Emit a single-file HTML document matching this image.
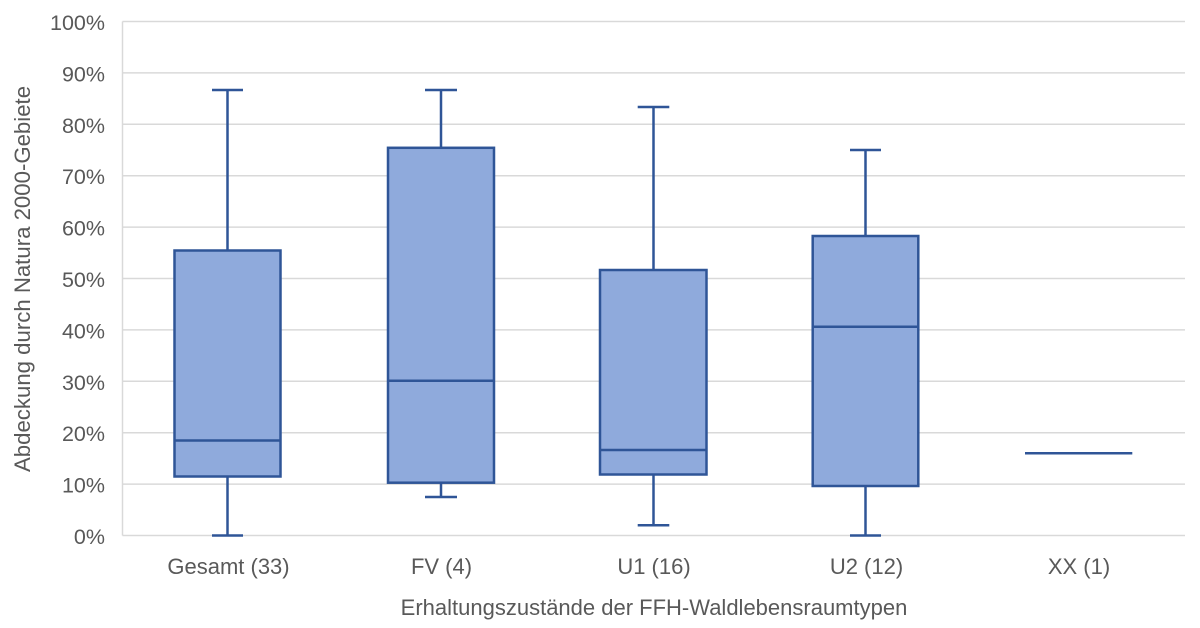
<!DOCTYPE html>
<html>
<head>
<meta charset="utf-8">
<style>
  html, body { margin: 0; padding: 0; background: #ffffff; }
  svg { display: block; }
  text { font-family: "Liberation Sans", Arial, sans-serif; fill: #595959; }
</style>
</head>
<body>
<svg width="1200" height="628" viewBox="0 0 1200 628" xmlns="http://www.w3.org/2000/svg">
  <rect x="0" y="0" width="1200" height="628" fill="#ffffff"/>

  <!-- gridlines -->
  <g stroke="#D9D9D9" stroke-width="1.5">
    <line x1="122.5" y1="21.5" x2="1185" y2="21.5"/>
    <line x1="122.5" y1="72.9" x2="1185" y2="72.9"/>
    <line x1="122.5" y1="124.3" x2="1185" y2="124.3"/>
    <line x1="122.5" y1="175.7" x2="1185" y2="175.7"/>
    <line x1="122.5" y1="227.1" x2="1185" y2="227.1"/>
    <line x1="122.5" y1="278.5" x2="1185" y2="278.5"/>
    <line x1="122.5" y1="329.9" x2="1185" y2="329.9"/>
    <line x1="122.5" y1="381.3" x2="1185" y2="381.3"/>
    <line x1="122.5" y1="432.7" x2="1185" y2="432.7"/>
    <line x1="122.5" y1="484.1" x2="1185" y2="484.1"/>
    <line x1="122.5" y1="535.5" x2="1185" y2="535.5"/>
    <line x1="122.5" y1="21.5" x2="122.5" y2="535.5"/>
  </g>

  <!-- y tick labels -->
  <g font-size="21.5" text-anchor="end">
    <text x="105" y="30">100%</text>
    <text x="105" y="81.4">90%</text>
    <text x="105" y="132.8">80%</text>
    <text x="105" y="184.2">70%</text>
    <text x="105" y="235.6">60%</text>
    <text x="105" y="287">50%</text>
    <text x="105" y="338.4">40%</text>
    <text x="105" y="389.8">30%</text>
    <text x="105" y="441.2">20%</text>
    <text x="105" y="492.6">10%</text>
    <text x="105" y="544">0%</text>
  </g>

  <!-- boxes -->
  <g stroke="#2F5597" stroke-width="2.5" fill="#8FAADC">
    <!-- Gesamt -->
    <line x1="227.5" y1="90" x2="227.5" y2="250.5"/>
    <line x1="212" y1="90" x2="243" y2="90"/>
    <line x1="227.5" y1="476.5" x2="227.5" y2="535.5"/>
    <line x1="212" y1="535.5" x2="243" y2="535.5"/>
    <rect x="174.5" y="250.5" width="106" height="226"/>
    <line x1="174.5" y1="440.5" x2="280.5" y2="440.5"/>

    <!-- FV -->
    <line x1="441" y1="90" x2="441" y2="147.8"/>
    <line x1="425" y1="90" x2="457" y2="90"/>
    <line x1="441" y1="482.7" x2="441" y2="497"/>
    <line x1="425" y1="497" x2="457" y2="497"/>
    <rect x="388" y="147.8" width="106" height="334.9"/>
    <line x1="388" y1="380.7" x2="494" y2="380.7"/>

    <!-- U1 -->
    <line x1="653.5" y1="107" x2="653.5" y2="270"/>
    <line x1="637.7" y1="107" x2="669.3" y2="107"/>
    <line x1="653.5" y1="474.5" x2="653.5" y2="525.3"/>
    <line x1="637.7" y1="525.3" x2="669.3" y2="525.3"/>
    <rect x="600" y="270" width="106.5" height="204.5"/>
    <line x1="600" y1="450" x2="706.5" y2="450"/>

    <!-- U2 -->
    <line x1="865.5" y1="150" x2="865.5" y2="236"/>
    <line x1="850" y1="150" x2="881" y2="150"/>
    <line x1="865.5" y1="486" x2="865.5" y2="535.5"/>
    <line x1="850" y1="535.5" x2="881" y2="535.5"/>
    <rect x="812.7" y="236" width="105.6" height="250"/>
    <line x1="812.7" y1="326.7" x2="918.3" y2="326.7"/>

    <!-- XX -->
    <line x1="1025" y1="453.3" x2="1132.3" y2="453.3"/>
  </g>

  <!-- x tick labels -->
  <g font-size="22" text-anchor="middle">
    <text x="228.5" y="574">Gesamt (33)</text>
    <text x="441.5" y="574">FV (4)</text>
    <text x="654" y="574">U1 (16)</text>
    <text x="866.5" y="574">U2 (12)</text>
    <text x="1079" y="574">XX (1)</text>
  </g>

  <!-- axis titles -->
  <text x="654" y="615" font-size="22" text-anchor="middle">Erhaltungszustände der FFH-Waldlebensraumtypen</text>
  <text x="0" y="0" font-size="22.2" text-anchor="middle" transform="translate(30,279) rotate(-90)">Abdeckung durch Natura 2000-Gebiete</text>
</svg>
</body>
</html>
